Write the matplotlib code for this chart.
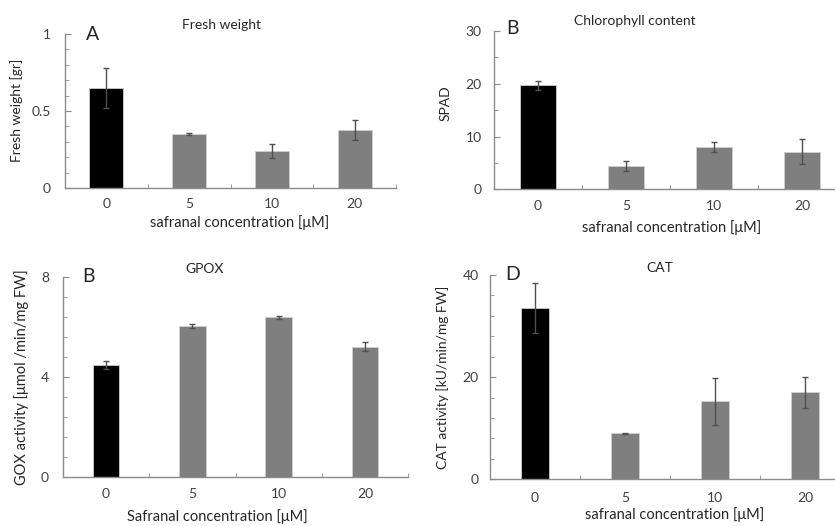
import matplotlib
matplotlib.use("Agg")
import matplotlib.pyplot as plt
from matplotlib.ticker import MultipleLocator

plt.rcParams['font.family'] = ['Lato', 'DejaVu Sans']

categories = ["0", "5", "10", "20"]

fw_values = [0.65, 0.35, 0.243, 0.378]
fw_errors = [0.13, 0.005, 0.045, 0.065]

spad_values = [19.75, 4.5, 8.0, 7.15]
spad_errors = [0.85, 0.95, 0.9, 2.4]

gpox_values = [4.47, 6.04, 6.37, 5.2]
gpox_errors = [0.15, 0.08, 0.07, 0.18]

cat_values = [33.5, 9.0, 15.3, 17.0]
cat_errors = [4.9, 0.15, 4.6, 3.1]

W, H = 835, 526
fig = plt.figure(figsize=(W / 100, H / 100), dpi=100)

AXIS_COL = '#8c8c8c'
TEXT_COL = '#262626'
BAR_COLORS = ['#000000', '#7f7f7f', '#7f7f7f', '#7f7f7f']


def px_axes(x0, y0, x1, y1):
    return fig.add_axes([x0 / W, 1 - y1 / H, (x1 - x0) / W, (y1 - y0) / H])


def ftext(x, y, s, **kw):
    fig.text(x / W, 1 - y / H, s, color=TEXT_COL, ha='center', va='center', **kw)


def panel(rect, values, errors, width, ymax, major, minor, ylabelpad, xpad):
    ax = px_axes(*rect)
    x = list(range(len(categories)))
    ax.bar(x, values, width=width, color=BAR_COLORS, edgecolor='#cfcfcf',
           linewidth=0.6, zorder=2)
    ax.errorbar(x, values, yerr=errors, fmt='none', ecolor='#505050',
                elinewidth=1.0, capsize=2.5, capthick=1.0, zorder=3)
    ax.set_xlim(-0.5, len(categories) - 0.5)
    ax.set_ylim(0, ymax)
    ax.yaxis.set_major_locator(MultipleLocator(major))
    ax.yaxis.set_minor_locator(MultipleLocator(minor))
    ax.set_xticks(x)
    ax.set_xticklabels(categories)
    ax.set_xticks([i + 0.5 for i in x], minor=True)
    for s in ['top', 'right']:
        ax.spines[s].set_visible(False)
    for s in ['left', 'bottom']:
        ax.spines[s].set_color(AXIS_COL)
        ax.spines[s].set_linewidth(1.0)
    ax.tick_params(axis='y', which='both', direction='in', color=AXIS_COL,
                   labelcolor='#404040', labelsize=10, pad=ylabelpad)
    ax.tick_params(axis='y', which='major', length=4)
    ax.tick_params(axis='y', which='minor', length=3)
    ax.tick_params(axis='x', which='major', length=0, labelcolor='#404040',
                   labelsize=10, pad=xpad)
    ax.tick_params(axis='x', which='minor', direction='in', length=3,
                   color=AXIS_COL)
    ax.set_facecolor('none')
    return ax


# Panel A
axA = panel((65, 34, 396, 188), fw_values, fw_errors, 0.41, 1, 0.5, 0.1, 10, 7)
axA.yaxis.set_major_formatter(matplotlib.ticker.FuncFormatter(
    lambda v, p: ('%g' % v)))
# Panel B
axB = panel((494, 31, 846, 189.3), spad_values, spad_errors, 0.40, 30, 10, 5, 9, 8)
# Panel C
axC = panel((63, 276.7, 408, 476.7), gpox_values, gpox_errors, 0.31, 8, 4, 0.8, 10, 8)
# Panel D
axD = panel((490, 275, 850, 479.3), cat_values, cat_errors, 0.31, 40, 20, 4, 8, 9)

# Titles
ftext(221, 25, "Fresh weight", fontsize=10)
ftext(635, 21, "Chlorophyll content", fontsize=10)
ftext(205, 269, "GPOX", fontsize=10)
ftext(660, 268, "CAT", fontsize=10)

# Panel letters
ftext(93, 35, "A", fontsize=14)
ftext(513, 29, "B", fontsize=14)
ftext(88, 276, "B", fontsize=14)
ftext(513, 275, "D", fontsize=14)

# X labels
ftext(240, 223, "safranal concentration [μM]", fontsize=10.5)
ftext(672, 228, "safranal concentration [μM]", fontsize=10.5)
ftext(217, 517, "Safranal concentration [μM]", fontsize=10.5)
ftext(675, 515, "safranal concentration [μM]", fontsize=10.5)

# Y labels
ftext(17, 110, "Fresh weight [gr]", fontsize=10, rotation=90)
ftext(446, 103, "SPAD", fontsize=10, rotation=90)
ftext(22, 377, "GOX activity [μmol /min/mg FW]", fontsize=10.5, rotation=90)
ftext(443, 377, "CAT activity [kU/min/mg FW]", fontsize=10, rotation=90)

fig.savefig("out.png", dpi=100)
